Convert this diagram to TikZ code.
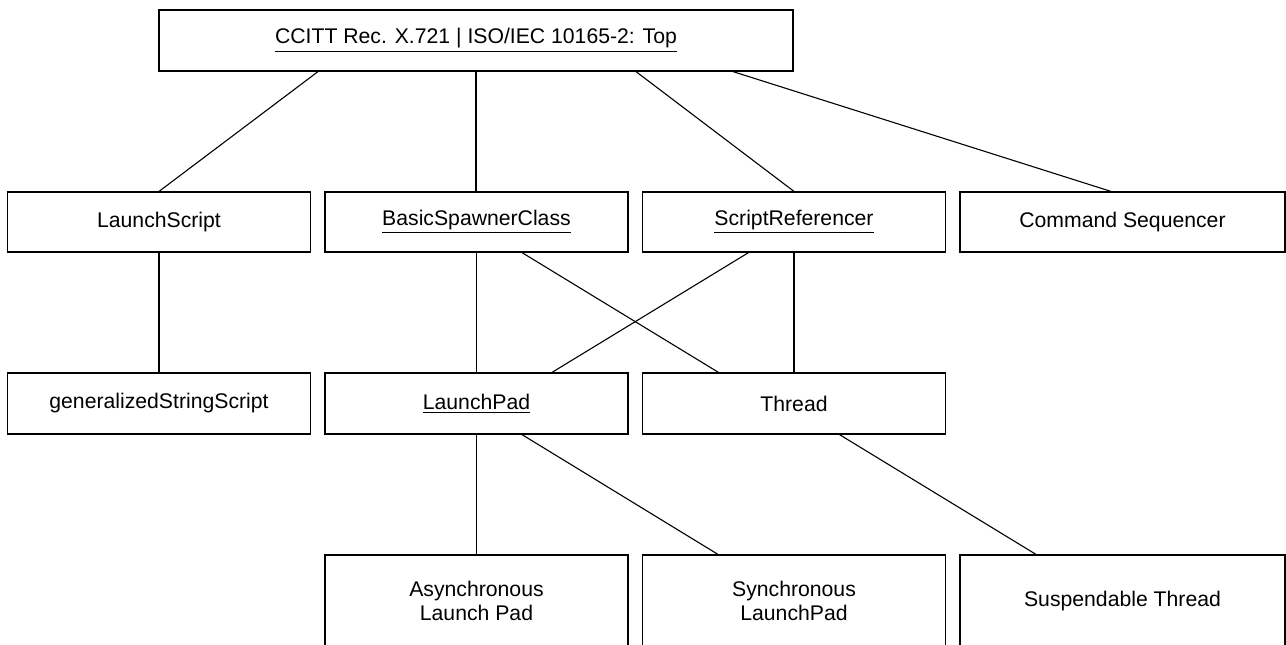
\documentclass[tikz,border=0pt]{standalone}
\usepackage{fontspec}
\setmainfont{Liberation Sans}
\begin{document}
\begin{tikzpicture}[x=0.5pt,y=-0.5pt,
		classbox/.style={draw,line width=0.6pt,inner sep=0pt,minimum width=151.5pt,minimum height=30pt,align=center,font=\fontsize{10.6}{11.8}\selectfont},
		link/.style={line width=0.55pt}]
				\useasboundingbox (0,0) rectangle (1286,644);
				
				% top of the tree
				\node[classbox,minimum width=317pt,minimum height=30.5pt] (top) at (476,40.5) {\underline{CCITT Rec. X.721 | ISO/IEC 10165-2: Top}};
				
				% second row
				\node[classbox] (ls)  at (159,222)    {LaunchScript};
				\node[classbox] (bsc) at (476.5,222)  {\underline{BasicSpawnerClass}};
				\node[classbox] (sr)  at (794,222)    {\underline{ScriptReferencer}};
				\node[classbox,minimum width=162.5pt] (cs) at (1122.5,222) {Command Sequencer};
				
				% third row
				\node[classbox,minimum height=30.5pt] (gss) at (159,403.5)   {generalizedStringScript};
				\node[classbox,minimum height=30.5pt] (lp)  at (476.5,403.5) {\underline{LaunchPad}};
				\node[classbox,minimum height=30.5pt] (thr) at (794,403.5)   {Thread};
				
				% bottom row (cut by the page edge)
				\node[classbox,minimum height=46pt] (async) at (476.5,601) {Asynchronous\\Launch Pad};
				\node[classbox,minimum height=46pt] (sync)  at (794,601)   {Synchronous\\LaunchPad};
				\node[classbox,minimum height=46pt,minimum width=162.5pt] (susp) at (1122.5,601) {Suspendable Thread};
				
				\draw[link] ([xshift=-79pt]top.south) -- (ls.north);
				\draw[link] (top.south) -- (top.south |- bsc.north);
				\draw[link] ([xshift=80pt]top.south) -- (sr.north);
				\draw[link] ([xshift=128.5pt]top.south) -- ([xshift=-5.75pt]cs.north);
				
				\draw[link] (ls.south) -- (gss.north);
				\draw[link] (bsc.south) -- (lp.north);
				\draw[link] ([xshift=22.75pt]bsc.south) -- ([xshift=-37.75pt]thr.north);
				\draw[link] ([xshift=-22.75pt]sr.south) -- ([xshift=37.75pt]lp.north);
				\draw[link] (sr.south) -- (thr.north);
				
				\draw[link] (lp.south) -- (async.north);
				\draw[link] ([xshift=22.75pt]lp.south) -- ([xshift=-38pt]sync.north);
				\draw[link] ([xshift=22.75pt]thr.south) -- ([xshift=-43.25pt]susp.north);
			\end{tikzpicture}
\end{document}
